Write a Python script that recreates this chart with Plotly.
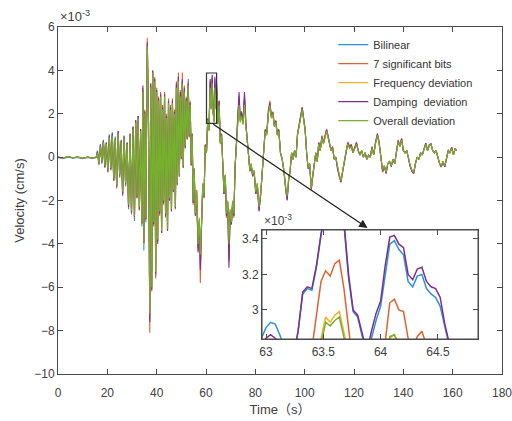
import plotly.graph_objects as go

# ---------------- main record (values in units of 1e-3 cm/s) ----------------
time_s = [
    0, 2, 4, 6, 8, 10, 12, 14, 15.5,
    16.0, 16.6, 17.2, 17.8, 18.4, 19.0, 19.6, 20.2, 20.8, 21.4,
    22.0, 22.6, 23.2, 23.8, 24.4, 25.0, 25.6, 26.2, 26.8, 27.4,
    28.0, 28.6, 29.2, 29.8, 30.4, 31.0, 31.5, 32.0, 32.5, 33.0,
    33.5, 34.0, 34.4, 34.8, 35.2, 35.6, 36.2, 36.7, 37.2, 37.6,
    38.0, 38.4, 38.8, 39.2, 39.6, 40.0, 40.4, 40.8, 41.2, 41.6,
    42.0, 42.4, 42.8, 43.2, 43.6, 44.0, 44.4, 44.8, 45.2, 45.6,
    46.0, 46.4, 46.8, 47.2, 47.6, 48.0, 48.4, 48.8, 49.2, 49.6,
    50.0, 50.4, 50.8, 51.2, 51.6, 52.0, 52.4, 52.8, 53.2, 53.6,
    54.0, 54.4, 54.8, 55.2, 55.7, 56.2, 56.8, 57.3, 57.7, 58.2,
    58.7, 59.2, 59.7, 60.2, 60.7, 61.2, 61.7, 62.1, 62.5, 62.9,
    63.3, 63.6, 64.0, 64.3, 64.8, 65.3, 65.8, 66.3, 66.8, 67.3,
    67.8, 68.3, 68.8, 69.3, 69.8, 70.3, 70.8, 71.3, 71.8, 72.3,
    72.8, 73.4, 73.9, 74.4, 75.0, 75.6, 76.2, 76.8, 77.3, 77.8,
    78.3, 78.9, 79.5, 80.2, 80.8, 81.5, 82.2, 82.8, 83.4, 84.0,
    84.6, 85.3, 85.9, 86.5, 87.1, 87.7, 88.3, 88.9, 89.5, 90.2,
    90.9, 91.6, 92.3, 92.9, 93.5, 94.1, 94.7, 95.3, 95.9, 96.5,
    97.1, 97.7, 98.4, 99.0, 99.6, 100.2, 100.8, 101.4, 102.0, 102.7,
    103.3, 103.9, 104.5, 105.1, 105.7, 106.3, 107.0, 107.6, 108.3, 108.9,
    109.5, 110.1, 110.7, 111.3, 112.0, 112.6, 113.3, 114.0, 114.7, 115.4,
    116.1, 116.8, 117.5, 118.2, 118.9, 119.6, 120.3, 121.0, 121.7, 122.4,
    123.1, 123.8, 124.5, 125.2, 125.9, 126.6, 127.3, 128.0, 128.7, 129.5,
    130.2, 130.9, 131.6, 132.3, 133.0, 133.7, 134.4, 135.1, 135.8, 136.5,
    137.2, 137.9, 138.6, 139.3, 140.0, 140.7, 141.4, 142.1, 142.8, 143.5,
    144.2, 144.9, 145.6, 146.3, 147.0, 147.7, 148.4, 149.1, 149.8, 150.5,
    151.2, 151.9, 152.6, 153.3, 154.0, 154.7, 155.4, 156.1, 156.8, 157.5,
    158.2, 158.9, 159.6, 160.3, 161.0, 161.6,
]

bilinear = [
    -0.02, -0.07, 0.0, -0.05, -0.02, -0.07, -0.02, -0.06, -0.02,
    0.3, -0.35, 0.6, -0.3, 0.8, -0.5, 0.7, -0.7, 1.05, -0.6,
    1.15, -1.1, 0.95, -1.45, 1.2, -0.95, 0.8, -1.8, 1.0, -1.35,
    0.7, -2.4, 1.1, -2.65, 1.4, -2.95, 1.7, -1.9, 1.9, -2.45,
    1.3, -3.2, 3.1, -4.3, 2.1, -3.0, 5.2, 1.6, -7.5, 3.3,
    -6.1, 3.95, -3.1, 3.6, -5.5, 3.1, -4.0, 2.7, -2.6, 2.9,
    -3.5, 2.3, -2.1, 2.9, -2.7, 1.9, -3.4, 2.6, -2.0, 2.3,
    -2.5, 2.6, -1.6, 2.1, -2.4, 3.3, -1.3, 3.6, -0.9, 2.9,
    -0.1, 3.5, -0.5, 3.1, 0.45, 2.7, 0.85, 3.6, 0.95, 2.5,
    -0.4, 1.05, -2.1, -0.55, -2.65, -1.55, -4.2, -2.9, -4.9, -3.1,
    -1.25, -1.85, 0.55, 0.2, 1.75, 1.25, 3.5, 2.25, 3.7, 2.05,
    1.65, 3.6, 2.25, 3.3, 1.55, 2.55, 0.65, 1.05, -0.55, -1.7,
    -0.85, -2.7, -2.1, -4.6, -2.5, -3.05, -2.05, -2.7, -0.45, 0.6,
    1.55, 2.8, 1.65, 2.0, 1.55, 2.8, 1.45, 0.65, 0.2, -0.65,
    -0.35, -0.85, -0.65, -1.7, -1.25, -2.45, -1.65, -0.55, 0.6, 1.25,
    1.05, 2.05, 2.45, 1.85, 2.05, 1.45, 1.65, 1.05, 1.25, 0.2,
    -0.1, -0.65, -1.45, -1.95, -1.05, -0.65, 0.2, -0.1, 0.3, 0.0,
    1.05, 1.45, 2.05, 2.25, 1.75, 1.25, 0.2, -0.5, -0.3, -1.45,
    -0.85, -0.4, 0.2, -0.2, 0.65, 0.3, 0.95, 0.65, 1.05, 1.25,
    0.95, 0.65, 0.3, 0.45, -0.1, 0.0, -0.5, -0.85, -1.1, -0.65,
    -0.2, 0.3, 0.65, 0.45, 0.55, 0.2, 0.45, 0.65, 0.3, 0.1,
    0.3, 0.0, 0.2, -0.1, 0.1, 0.0, 0.45, 0.1, 0.65, 1.05,
    0.65, 0.0, -0.65, -0.4, -0.75, -0.3, -0.2, -0.4, -0.1, -0.3,
    0.2, 0.75, 0.5, 0.85, 0.3, 0.2, 0.3, -0.1, -0.4, -0.65,
    -0.75, -0.3, 0.0, -0.1, 0.2, 0.1, 0.45, 0.65, 0.3, 0.55,
    0.6, 0.3, 0.2, 0.3, 0.0, -0.3, -0.45, -0.2, -0.45, 0.0,
    0.3, 0.2, 0.45, 0.1, 0.4, 0.3,
]

bits7 = [
    0.02, -0.06, 0.03, -0.04, 0.01, -0.06, 0.01, -0.05, 0.0,
    0.25, -0.35, 0.55, -0.25, 0.75, -0.45, 0.65, -0.7, 0.95, -0.6,
    1.05, -1.1, 0.85, -1.4, 1.15, -0.9, 0.75, -1.75, 0.95, -1.3,
    0.65, -2.35, 1.05, -2.6, 1.4, -2.8, 1.7, -1.9, 1.9, -2.45,
    1.3, -3.1, 3.2, -4.0, 2.2, -2.9, 5.5, 1.6, -8.1, 3.4,
    -6.2, 4.0, -3.2, 3.7, -5.6, 3.2, -4.0, 2.8, -2.7, 3.0,
    -3.5, 2.4, -2.2, 3.0, -2.8, 2.0, -3.4, 2.7, -2.0, 2.4,
    -2.5, 2.7, -1.6, 2.2, -2.4, 3.5, -1.3, 3.9, -0.9, 3.1,
    -0.1, 3.9, -0.5, 3.3, 0.4, 2.8, 0.8, 3.5, 0.9, 2.6,
    -0.4, 1.1, -2.2, -0.6, -2.7, -1.6, -4.3, -3.0, -5.8, -3.2,
    -1.3, -1.9, 0.6, 0.2, 1.8, 1.3, 3.5, 2.3, 3.6, 2.1,
    1.7, 3.4, 2.3, 3.2, 1.6, 2.6, 0.7, 1.1, -0.6, -1.7,
    -0.9, -2.8, -2.2, -4.8, -2.6, -3.1, -2.1, -2.8, -0.5, 0.6,
    1.6, 2.7, 1.7, 2.1, 1.6, 2.7, 1.5, 0.7, 0.2, -0.6,
    -0.3, -0.9, -0.7, -1.7, -1.3, -2.4, -1.7, -0.6, 0.6, 1.3,
    1.1, 2.2, 2.6, 1.9, 2.1, 1.5, 1.7, 1.1, 1.3, 0.2,
    -0.1, -0.7, -1.5, -1.9, -1.1, -0.7, 0.2, -0.1, 0.3, 0.0,
    1.1, 1.5, 2.1, 2.3, 1.8, 1.3, 0.2, -0.5, -0.3, -1.5,
    -0.9, -0.4, 0.2, -0.2, 0.7, 0.3, 1.0, 0.7, 1.1, 1.3,
    1.0, 0.7, 0.3, 0.5, -0.1, 0.0, -0.5, -0.9, -1.15, -0.7,
    -0.2, 0.3, 0.7, 0.5, 0.6, 0.2, 0.5, 0.7, 0.3, 0.1,
    0.3, 0.0, 0.2, -0.1, 0.1, 0.0, 0.5, 0.1, 0.7, 1.1,
    0.7, 0.0, -0.7, -0.4, -0.75, -0.3, -0.2, -0.4, -0.1, -0.3,
    0.2, 0.8, 0.5, 0.85, 0.3, 0.2, 0.3, -0.1, -0.4, -0.65,
    -0.75, -0.3, 0.0, -0.1, 0.2, 0.1, 0.45, 0.65, 0.3, 0.55,
    0.65, 0.3, 0.2, 0.3, 0.0, -0.3, -0.45, -0.2, -0.45, 0.0,
    0.35, 0.2, 0.45, 0.1, 0.4, 0.3,
]

freq_dev = [
    0.0, -0.05, 0.02, -0.03, 0.0, -0.05, 0.0, -0.04, 0.0,
    0.22, -0.32, 0.52, -0.22, 0.72, -0.42, 0.62, -0.62, 0.92, -0.52,
    1.02, -1.02, 0.82, -1.32, 1.12, -0.82, 0.72, -1.62, 0.92, -1.22,
    0.62, -2.25, 1.02, -2.55, 1.32, -2.75, 1.62, -1.82, 1.82, -2.35,
    1.22, -3.05, 3.05, -4.05, 2.05, -2.85, 5.2, 1.52, -7.3, 3.25,
    -6.05, 3.95, -3.05, 3.55, -5.4, 3.05, -3.85, 2.65, -2.55, 2.85,
    -3.45, 2.25, -2.05, 2.85, -2.65, 1.85, -3.35, 2.55, -1.95, 2.25,
    -2.45, 2.55, -1.55, 2.05, -2.35, 3.25, -1.25, 3.55, -0.85, 2.85,
    -0.05, 3.45, -0.45, 3.05, 0.5, 2.65, 0.9, 3.35, 1.0, 2.45,
    -0.35, 1.0, -2.05, -0.5, -2.62, -1.52, -4.05, -2.85, -4.6, -3.05,
    -1.22, -1.82, 0.52, 0.2, 1.72, 1.22, 3.25, 2.22, 3.45, 2.02,
    1.62, 3.25, 2.22, 3.05, 1.52, 2.45, 0.62, 1.02, -0.52, -1.62,
    -0.82, -2.62, -2.02, -4.1, -2.42, -3.02, -2.02, -2.62, -0.42, 0.6,
    1.52, 2.45, 1.62, 1.92, 1.52, 2.45, 1.42, 0.62, 0.2, -0.62,
    -0.3, -0.8, -0.6, -1.6, -1.2, -2.3, -1.6, -0.5, 0.6, 1.2,
    1.0, 2.0, 2.4, 1.8, 2.0, 1.4, 1.6, 1.0, 1.2, 0.2,
    -0.1, -0.6, -1.4, -1.8, -1.0, -0.6, 0.2, -0.1, 0.3, 0.0,
    1.0, 1.4, 2.0, 2.2, 1.7, 1.2, 0.2, -0.5, -0.3, -1.4,
    -0.8, -0.4, 0.2, -0.2, 0.6, 0.3, 0.9, 0.6, 1.0, 1.2,
    0.9, 0.6, 0.3, 0.4, -0.1, 0.0, -0.5, -0.8, -1.1, -0.6,
    -0.2, 0.3, 0.6, 0.4, 0.5, 0.2, 0.4, 0.6, 0.3, 0.1,
    0.3, 0.0, 0.2, -0.1, 0.1, 0.0, 0.4, 0.1, 0.6, 1.0,
    0.6, 0.0, -0.6, -0.4, -0.7, -0.3, -0.2, -0.4, -0.1, -0.3,
    0.2, 0.7, 0.5, 0.8, 0.3, 0.2, 0.3, -0.1, -0.4, -0.6,
    -0.7, -0.3, 0.0, -0.1, 0.2, 0.1, 0.4, 0.6, 0.3, 0.5,
    0.6, 0.3, 0.2, 0.3, 0.0, -0.3, -0.4, -0.2, -0.4, 0.0,
    0.3, 0.2, 0.4, 0.1, 0.4, 0.3,
]

damping_dev = [
    0.01, -0.05, 0.02, -0.03, 0.0, -0.05, 0.0, -0.04, 0.0,
    0.25, -0.3, 0.55, -0.25, 0.75, -0.45, 0.65, -0.65, 1.0, -0.55,
    1.1, -1.05, 0.85, -1.35, 1.2, -0.85, 0.75, -1.7, 0.95, -1.25,
    0.65, -2.3, 1.05, -2.55, 1.4, -2.75, 1.7, -1.85, 1.9, -2.4,
    1.3, -3.05, 3.3, -3.95, 2.1, -2.85, 5.3, 1.6, -7.6, 3.4,
    -6.1, 4.0, -3.1, 3.6, -5.4, 3.1, -3.9, 2.7, -2.6, 2.9,
    -3.5, 2.3, -2.1, 2.9, -2.7, 1.9, -3.4, 2.6, -2.0, 2.3,
    -2.5, 2.6, -1.6, 2.1, -2.35, 3.4, -1.25, 3.7, -0.85, 3.0,
    -0.05, 3.6, -0.45, 3.2, 0.45, 2.7, 0.85, 3.4, 0.95, 2.5,
    -0.35, 1.05, -2.1, -0.55, -2.7, -1.55, -4.4, -2.9, -5.2, -3.1,
    -1.25, -1.85, 0.55, 0.2, 1.75, 1.25, 3.6, 2.25, 3.8, 2.1,
    1.65, 3.7, 2.3, 3.4, 1.55, 2.6, 0.65, 1.05, -0.55, -1.7,
    -0.85, -2.7, -2.1, -5.1, -2.5, -3.1, -2.05, -2.7, -0.45, 0.65,
    1.6, 3.0, 1.7, 2.1, 1.6, 3.0, 1.5, 0.65, 0.2, -0.65,
    -0.35, -0.85, -0.65, -1.7, -1.25, -2.5, -1.7, -0.55, 0.6, 1.25,
    1.05, 2.1, 2.5, 1.85, 2.05, 1.45, 1.65, 1.05, 1.25, 0.2,
    -0.1, -0.65, -1.5, -2.0, -1.05, -0.65, 0.2, -0.1, 0.3, 0.0,
    1.05, 1.45, 2.1, 2.3, 1.75, 1.25, 0.2, -0.55, -0.3, -1.45,
    -0.85, -0.4, 0.2, -0.2, 0.65, 0.3, 0.95, 0.65, 1.05, 1.25,
    0.95, 0.65, 0.3, 0.45, -0.1, 0.0, -0.55, -0.85, -1.15, -0.65,
    -0.2, 0.3, 0.65, 0.45, 0.55, 0.2, 0.45, 0.65, 0.3, 0.1,
    0.3, 0.0, 0.2, -0.1, 0.1, 0.0, 0.45, 0.1, 0.65, 1.05,
    0.65, 0.0, -0.65, -0.4, -0.75, -0.3, -0.2, -0.45, -0.1, -0.3,
    0.2, 0.75, 0.5, 0.85, 0.3, 0.2, 0.3, -0.1, -0.45, -0.65,
    -0.75, -0.3, 0.0, -0.1, 0.2, 0.1, 0.45, 0.65, 0.3, 0.55,
    0.6, 0.3, 0.2, 0.3, 0.0, -0.3, -0.45, -0.2, -0.45, 0.0,
    0.3, 0.2, 0.45, 0.1, 0.4, 0.3,
]

overall_dev = [
    0.0, -0.05, 0.02, -0.03, 0.0, -0.05, 0.0, -0.04, 0.0,
    0.2, -0.3, 0.5, -0.2, 0.7, -0.4, 0.6, -0.6, 0.9, -0.5,
    1.0, -1.0, 0.8, -1.3, 1.1, -0.8, 0.7, -1.6, 0.9, -1.2,
    0.6, -2.2, 1.0, -2.5, 1.3, -2.7, 1.6, -1.8, 1.8, -2.3,
    1.2, -3.0, 3.0, -3.9, 2.0, -2.8, 5.1, 1.5, -7.2, 3.2,
    -6.0, 3.9, -3.0, 3.5, -5.3, 3.0, -3.8, 2.6, -2.5, 2.8,
    -3.4, 2.2, -2.0, 2.8, -2.6, 1.8, -3.3, 2.5, -1.9, 2.2,
    -2.4, 2.5, -1.5, 2.0, -2.3, 3.2, -1.2, 3.5, -0.8, 2.8,
    0.0, 3.4, -0.4, 3.0, 0.5, 2.6, 0.9, 3.3, 1.0, 2.4,
    -0.3, 1.0, -2.0, -0.5, -2.6, -1.5, -4.0, -2.8, -4.5, -3.0,
    -1.2, -1.8, 0.5, 0.2, 1.7, 1.2, 3.2, 2.2, 3.4, 2.0,
    1.6, 3.2, 2.2, 3.0, 1.5, 2.4, 0.6, 1.0, -0.5, -1.6,
    -0.8, -2.6, -2.0, -4.0, -2.4, -3.0, -2.0, -2.6, -0.4, 0.6,
    1.5, 2.4, 1.6, 1.9, 1.5, 2.4, 1.4, 0.6, 0.2, -0.6,
    -0.3, -0.8, -0.6, -1.6, -1.2, -2.3, -1.6, -0.5, 0.6, 1.2,
    1.0, 2.0, 2.4, 1.8, 2.0, 1.4, 1.6, 1.0, 1.2, 0.2,
    -0.1, -0.6, -1.4, -1.8, -1.0, -0.6, 0.2, -0.1, 0.3, 0.0,
    1.0, 1.4, 2.0, 2.2, 1.7, 1.2, 0.2, -0.5, -0.3, -1.4,
    -0.8, -0.4, 0.2, -0.2, 0.6, 0.3, 0.9, 0.6, 1.0, 1.2,
    0.9, 0.6, 0.3, 0.4, -0.1, 0.0, -0.5, -0.8, -1.1, -0.6,
    -0.2, 0.3, 0.6, 0.4, 0.5, 0.2, 0.4, 0.6, 0.3, 0.1,
    0.3, 0.0, 0.2, -0.1, 0.1, 0.0, 0.4, 0.1, 0.6, 1.0,
    0.6, 0.0, -0.6, -0.4, -0.7, -0.3, -0.2, -0.4, -0.1, -0.3,
    0.2, 0.7, 0.5, 0.8, 0.3, 0.2, 0.3, -0.1, -0.4, -0.6,
    -0.7, -0.3, 0.0, -0.1, 0.2, 0.1, 0.4, 0.6, 0.3, 0.5,
    0.6, 0.3, 0.2, 0.3, 0.0, -0.3, -0.4, -0.2, -0.4, 0.0,
    0.3, 0.2, 0.4, 0.1, 0.4, 0.3,
]

# ---------------- zoomed inset (63 s - 64.8 s) ----------------
inset_t = [
    62.96, 63.00, 63.04, 63.08, 63.12, 63.16, 63.20, 63.24, 63.28, 63.32,
    63.36, 63.40, 63.44, 63.48, 63.52, 63.56, 63.60, 63.64, 63.68, 63.72,
    63.76, 63.80, 63.84, 63.88, 63.92, 63.96, 64.00, 64.04, 64.08, 64.12,
    64.16, 64.20, 64.24, 64.28, 64.32, 64.36, 64.40, 64.44, 64.48, 64.52,
    64.56, 64.60, 64.64, 64.68, 64.72, 64.76, 64.80, 64.84,
]
inset_bilinear = [
    2.84, 2.90, 2.93, 2.92, 2.86, 2.78, 2.72, 2.74, 2.88, 3.09,
    3.12, 3.11, 3.24, 3.42, 3.60, 3.72, 3.77, 3.70, 3.48, 3.18,
    2.99, 2.96, 2.85, 2.74, 2.84, 2.94, 3.02, 3.21, 3.37, 3.39,
    3.34, 3.31, 3.16, 3.13, 3.19, 3.20, 3.12, 3.09, 3.07, 3.02,
    2.88, 2.76, 2.68, 2.66, 2.68, 2.72, 2.74, 2.72,
]
inset_bits7 = [
    2.55, 2.58, 2.60, 2.58, 2.52, 2.46, 2.44, 2.48, 2.55, 2.62,
    2.68, 2.78, 2.98, 3.16, 3.22, 3.19, 3.26, 3.28, 3.12, 2.86,
    2.68, 2.62, 2.56, 2.50, 2.55, 2.62, 2.70, 2.82, 3.04, 3.06,
    3.00, 2.99, 2.84, 2.78, 2.85, 2.88, 2.79, 2.72, 2.68, 2.64,
    2.55, 2.45, 2.40, 2.38, 2.40, 2.44, 2.46, 2.44,
]
inset_freq = [
    2.35, 2.38, 2.40, 2.38, 2.33, 2.28, 2.26, 2.30, 2.36, 2.42,
    2.48, 2.60, 2.72, 2.84, 2.96, 2.93, 2.97, 2.99, 2.86, 2.66,
    2.50, 2.45, 2.40, 2.36, 2.40, 2.46, 2.55, 2.70, 2.84, 2.86,
    2.81, 2.79, 2.68, 2.62, 2.68, 2.70, 2.62, 2.56, 2.52, 2.48,
    2.40, 2.32, 2.28, 2.26, 2.28, 2.31, 2.33, 2.31,
]
inset_damping = [
    2.80, 2.84, 2.86, 2.84, 2.80, 2.74, 2.70, 2.74, 2.88, 3.10,
    3.13, 3.12, 3.25, 3.43, 3.62, 3.75, 3.80, 3.72, 3.50, 3.20,
    3.00, 2.97, 2.86, 2.76, 2.88, 2.98, 3.05, 3.25, 3.41, 3.42,
    3.37, 3.35, 3.20, 3.17, 3.23, 3.24, 3.16, 3.13, 3.12, 3.07,
    2.92, 2.78, 2.70, 2.68, 2.70, 2.74, 2.76, 2.74,
]
inset_overall = [
    2.32, 2.35, 2.37, 2.35, 2.30, 2.25, 2.23, 2.27, 2.33, 2.39,
    2.45, 2.56, 2.68, 2.80, 2.93, 2.91, 2.94, 2.96, 2.83, 2.64,
    2.48, 2.43, 2.38, 2.34, 2.38, 2.44, 2.53, 2.70, 2.85, 2.86,
    2.80, 2.78, 2.66, 2.60, 2.66, 2.68, 2.60, 2.54, 2.50, 2.46,
    2.38, 2.30, 2.26, 2.24, 2.26, 2.29, 2.31, 2.29,
]

series_names = ["Bilinear", "7 significant bits", "Frequency deviation",
                "Damping  deviation", "Overall deviation"]
series_colors = ["#2a93d8", "#e0622e", "#f0b22a", "#7e2f8e", "#77b02e"]
main_series = [bilinear, bits7, freq_dev, damping_dev, overall_dev]
inset_series = [inset_bilinear, inset_bits7, inset_freq, inset_damping, inset_overall]

for s in main_series:
    assert len(s) == len(time_s), (len(s), len(time_s))
for s in inset_series:
    assert len(s) == len(inset_t), (len(s), len(inset_t))

# zoom box (data coords) and arrow end
box_t = [60.2, 64.3]
box_v = [1.56, 3.88]
arrow_tail = [62.35, 1.56]
arrow_head = [125.5, -3.27]

fig = go.Figure()
for name, col, ys in zip(series_names, series_colors, main_series):
    fig.add_trace(go.Scatter(x=time_s, y=ys, mode="lines", name=name,
                             line=dict(color=col, width=1.1),
                             xaxis="x", yaxis="y"))
for name, col, ys in zip(series_names, series_colors, inset_series):
    fig.add_trace(go.Scatter(x=inset_t, y=ys, mode="lines", name=name,
                             line=dict(color=col, width=1.5),
                             xaxis="x2", yaxis="y2", showlegend=False))

axis_style = dict(showline=True, mirror="ticks", linecolor="#4a4a4a", linewidth=1,
                  ticks="inside", ticklen=5, tickcolor="#4a4a4a",
                  showgrid=False, zeroline=False, automargin=False,
                  ticklabeloverflow="allow",
                  tickfont=dict(size=12, color="#404040"))

FONT = "Liberation Sans, Arial, Noto Sans CJK SC, sans-serif"

fig.update_layout(
    width=512, height=421,
    margin=dict(l=58, r=10, t=27, b=47),
    paper_bgcolor="white", plot_bgcolor="white",
    font=dict(family=FONT, size=12, color="#404040"),
    xaxis=dict(domain=[0, 1], range=[0, 180], tickvals=list(range(0, 181, 20)),
               ticklabelstandoff=8,
               title=dict(text="Time（s）", font=dict(size=13, color="#404040"), standoff=5),
               **axis_style),
    yaxis=dict(domain=[0, 1], range=[-10, 6], tickvals=list(range(-10, 7, 2)),
               title=dict(text="Velocity (cm/s)", font=dict(size=13, color="#404040"), standoff=6),
               **axis_style),
    xaxis2=dict(domain=[0.4595, 0.946], range=[62.965, 64.85], anchor="y2",
                tickvals=[63, 63.5, 64, 64.5], ticktext=["63", "63.5", "64", "64.5"],
                ticklabelstandoff=2,
                **axis_style),
    yaxis2=dict(domain=[0.1009, 0.415], range=[2.836, 3.45], anchor="x2",
                tickvals=[3, 3.2, 3.4], ticktext=["3", "3.2", "3.4"],
                **axis_style),
    legend=dict(x=0.62, y=0.991, xanchor="left", yanchor="top",
                bgcolor="rgba(0,0,0,0)", borderwidth=0,
                font=dict(size=11, color="#333333"), tracegroupgap=0),
    showlegend=True,
)

fig.add_shape(type="rect", xref="x", yref="y", x0=box_t[0], x1=box_t[1],
              y0=box_v[0], y1=box_v[1], line=dict(color="#333333", width=1.2))
fig.add_shape(type="rect", xref="x2 domain", yref="y2 domain", x0=0, x1=1, y0=0, y1=1,
              line=dict(color="#4a4a4a", width=1), fillcolor="rgba(0,0,0,0)")

fig.add_annotation(x=arrow_head[0], y=arrow_head[1], ax=arrow_tail[0], ay=arrow_tail[1],
                   xref="x", yref="y", axref="x", ayref="y", text="",
                   showarrow=True, arrowhead=2, arrowsize=1.3, arrowwidth=1.3,
                   arrowcolor="#222222")
fig.add_annotation(x=0, y=1, xref="paper", yref="paper", xanchor="left", yanchor="bottom",
                   text="×10<sup>-3</sup>", showarrow=False, yshift=1,
                   font=dict(size=13, color="#404040"))
fig.add_annotation(x=0.4595, y=0.415, xref="paper", yref="paper", xanchor="left",
                   yanchor="bottom", text="×10<sup>-3</sup>", showarrow=False,
                   font=dict(size=12, color="#404040"))

fig.write_html("out.html")
